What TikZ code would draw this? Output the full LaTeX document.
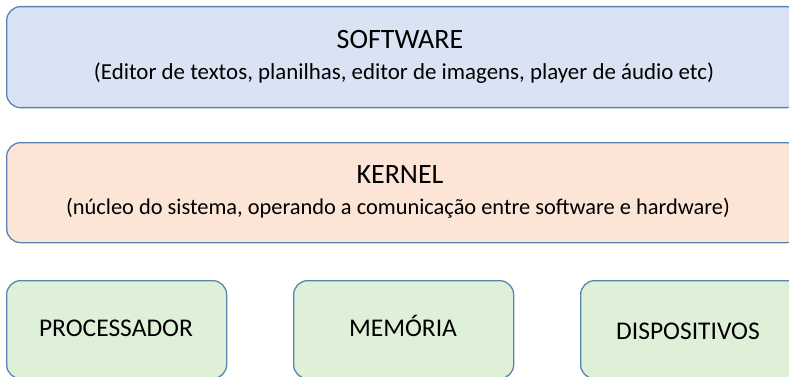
\documentclass[tikz,border=0pt]{standalone}
\usepackage{fontspec}
\setmainfont{Carlito}
\definecolor{bordc}{RGB}{88,132,180}
\definecolor{softc}{RGB}{218,227,243}
\definecolor{kernc}{RGB}{252,228,214}
\definecolor{hwc}{RGB}{223,240,216}
\begin{document}
\begin{tikzpicture}[x=1pt,y=-1pt,
  box/.style={draw=bordc, line width=1.3pt, rounded corners=14pt, anchor=north west, inner sep=0pt},
  wide/.style={box, minimum width=794pt, minimum height=101pt},
  hw/.style={box, fill=hwc, minimum width=220pt, minimum height=98pt},
  title/.style={font=\fontsize{28}{32}\selectfont, anchor=base, inner sep=0pt},
  sub/.style={font=\fontsize{22.6}{26}\selectfont, anchor=base, inner sep=0pt},
  hwlabel/.style={font=\fontsize{25.5}{29}\selectfont, anchor=base, inner sep=0pt}]
\useasboundingbox (0,0) rectangle (789,377);
\clip (0,0) rectangle (789,377);
\node[wide, fill=softc] (sw) at (6,6) {};
\node[wide, fill=kernc, minimum height=100pt] (kr) at (6,142) {};
\node[hw] (cpu) at (6,280) {};
\node[hw] (mem) at (293,280) {};
\node[hw] (dev) at (580,280) {};
\node[title] (swt) at (400,49) {SOFTWARE};
\node[sub, font=\fontsize{22.9}{26}\selectfont] (sws) at (404,80) {(Editor de textos, planilhas, editor de imagens, player de áudio etc)};
\node[title] (krt) at (400,183) {KERNEL};
\node[sub, font=\fontsize{22.4}{26}\selectfont] (krs) at (398,214) {(núcleo do sistema, operando a comunicação entre software e hardware)};
\node[hwlabel] (cput) at (116,336) {PROCESSADOR};
\node[hwlabel] (memt) at (403,336) {MEMÓRIA};
\node[hwlabel] (devt) at (688,339) {DISPOSITIVOS};
\end{tikzpicture}
\end{document}
